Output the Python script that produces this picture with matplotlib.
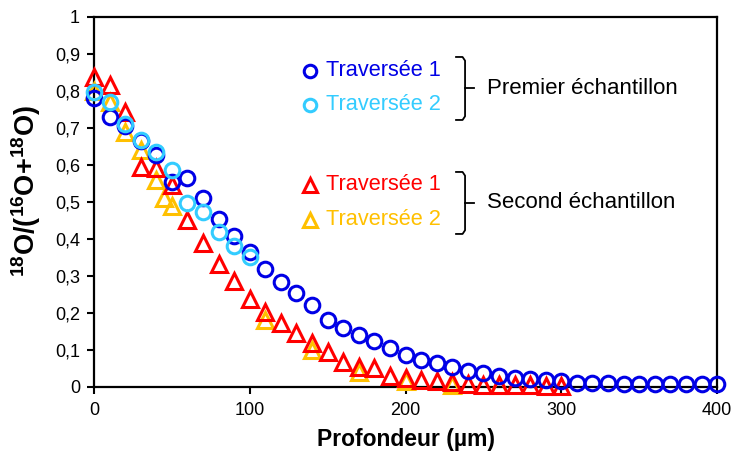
import matplotlib
matplotlib.use("Agg")
import matplotlib.pyplot as plt
from matplotlib.ticker import FuncFormatter

plt.rcParams['font.family'] = ['Liberation Sans', 'DejaVu Sans']
plt.rcParams['mathtext.fontset'] = 'custom'
plt.rcParams['mathtext.rm'] = 'Liberation Sans'
plt.rcParams['mathtext.bf'] = 'Liberation Sans:bold'
plt.rcParams['mathtext.default'] = 'bf'

# Premier échantillon, Traversée 1
p1_depth = [0, 10, 20, 30, 40, 50, 60, 70, 80, 90, 100, 110, 120, 130, 140, 150,
            160, 170, 180, 190, 200, 210, 220, 230, 240, 250, 260, 270, 280, 290,
            300, 310, 320, 330, 340, 350, 360, 370, 380, 390, 400]
p1_ratio = [0.78, 0.73, 0.705, 0.665, 0.627, 0.554, 0.565, 0.51, 0.455, 0.408, 0.365,
            0.32, 0.284, 0.254, 0.222, 0.181, 0.16, 0.14, 0.124, 0.105, 0.086, 0.073,
            0.065, 0.054, 0.043, 0.038, 0.03, 0.024, 0.022, 0.019, 0.016, 0.011,
            0.01, 0.01, 0.009, 0.009, 0.008, 0.008, 0.008, 0.008, 0.008]
# Premier échantillon, Traversée 2
p2_depth = [0, 10, 20, 30, 40, 50, 60, 70, 80, 90, 100]
p2_ratio = [0.797, 0.77, 0.71, 0.668, 0.635, 0.586, 0.497, 0.473, 0.419, 0.38, 0.351]
# Second échantillon, Traversée 1
s1_depth = [0, 10, 20, 30, 40, 50, 60, 70, 80, 90, 100, 110, 120, 130, 140, 150,
            160, 170, 180, 190, 200, 210, 220, 230, 240, 250, 260, 270, 280, 290, 300]
s1_ratio = [0.838, 0.816, 0.743, 0.595, 0.592, 0.546, 0.451, 0.389, 0.332, 0.286, 0.238,
            0.203, 0.173, 0.146, 0.12, 0.095, 0.068, 0.054, 0.051, 0.03, 0.024, 0.02,
            0.016, 0.012, 0.008, 0.006, 0.005, 0.004, 0.005, 0.003, 0.002]
# Second échantillon, Traversée 2
s2_depth = [0, 10, 20, 30, 40, 45, 50, 110, 140, 170, 200, 230, 260]
s2_ratio = [0.8, 0.77, 0.69, 0.64, 0.56, 0.51, 0.49, 0.18, 0.1, 0.04, 0.015, 0.005, 0.005]

y_ticks = [0, 0.1, 0.2, 0.3, 0.4, 0.5, 0.6, 0.7, 0.8, 0.9, 1]
x_ticks = [0, 100, 200, 300, 400]

c_dark = '#0000E6'
c_light = '#33CCFF'
c_red = '#FF0000'
c_yellow = '#FFC000'

fig = plt.figure(figsize=(7.34, 4.59), dpi=100)
ax = fig.add_axes([0.128, 0.157, 0.849, 0.806])

ms_c = 10.5
ms_t = 11
mew = 2.2
ax.plot(s2_depth, s2_ratio, linestyle='none', marker='^', ms=ms_t, mew=mew,
        mfc='none', mec=c_yellow, zorder=3)
ax.plot(s1_depth, s1_ratio, linestyle='none', marker='^', ms=ms_t, mew=mew,
        mfc='none', mec=c_red, zorder=4)
ax.plot(p1_depth, p1_ratio, linestyle='none', marker='o', ms=ms_c, mew=mew,
        mfc='none', mec=c_dark, zorder=5)
ax.plot(p2_depth, p2_ratio, linestyle='none', marker='o', ms=ms_c, mew=mew,
        mfc='none', mec=c_light, zorder=6)

ax.set_xlim(0, 400)
ax.set_ylim(0, 1)
ax.set_xticks(x_ticks)
ax.set_yticks(y_ticks)
fmt = FuncFormatter(lambda v, p: ('%g' % v).replace('.', ','))
ax.yaxis.set_major_formatter(fmt)
ax.xaxis.set_major_formatter(fmt)
ax.tick_params(direction='out', length=5, width=1.5, labelsize=13, colors='black')
ax.tick_params(axis='x', pad=6)
ax.tick_params(axis='y', pad=5)
for s in ax.spines.values():
    s.set_linewidth(1.6)
for ln in ax.get_lines():
    ln.set_clip_on(False)

ax.set_xlabel('Profondeur (µm)', fontsize=16.5, fontweight='bold', labelpad=6)
ax.set_ylabel(r'$^{18}$O/($^{16}$O+$^{18}$O)', fontsize=19.5, fontweight='bold')
ax.yaxis.set_label_coords(-0.081, 0.53)

# custom legend
tf = ax.transAxes
def px(xp, yp):
    return ((xp - 94) / 623.0, (387 - yp) / 370.0)

entries = [('o', c_dark, 71, 'Traversée 1'), ('o', c_light, 105, 'Traversée 2'),
           ('^', c_red, 185, 'Traversée 1'), ('^', c_yellow, 220, 'Traversée 2')]
for mk, col, yp, txt in entries:
    x0, y0 = px(310, yp)
    ax.plot([x0], [y0], transform=tf, marker=mk, ms=9 if mk == 'o' else 9.5, mew=2.2,
            mfc='none', mec=col, linestyle='none', clip_on=False)
    x1, _ = px(326, yp)
    ax.text(x1, y0, txt, transform=tf, color=col, fontsize=15.7, va='center', ha='left')

def bracket(ytop, ybot):
    xa, yt = px(456, ytop)
    xb, yb = px(465, ybot)
    _, ym = px(0, (ytop + ybot) / 2)
    xc, _ = px(474, 0)
    ax.plot([xa, xb - 0.004, xb, xb, xb - 0.004, xa], [yt, yt, yt - 0.01, yb + 0.01, yb, yb],
            transform=tf, color='black', lw=1.3, clip_on=False)
    ax.plot([xb, xc], [ym, ym], transform=tf, color='black', lw=1.3, clip_on=False)
    return ym

ym1 = bracket(57, 120)
ax.text(px(487, 0)[0], ym1, 'Premier échantillon', transform=tf, fontsize=16,
        va='center', ha='left', color='black')
ym2 = bracket(172, 234)
ax.text(px(487, 0)[0], ym2, 'Second échantillon', transform=tf, fontsize=16,
        va='center', ha='left', color='black')

fig.savefig('out.png', dpi=100)
